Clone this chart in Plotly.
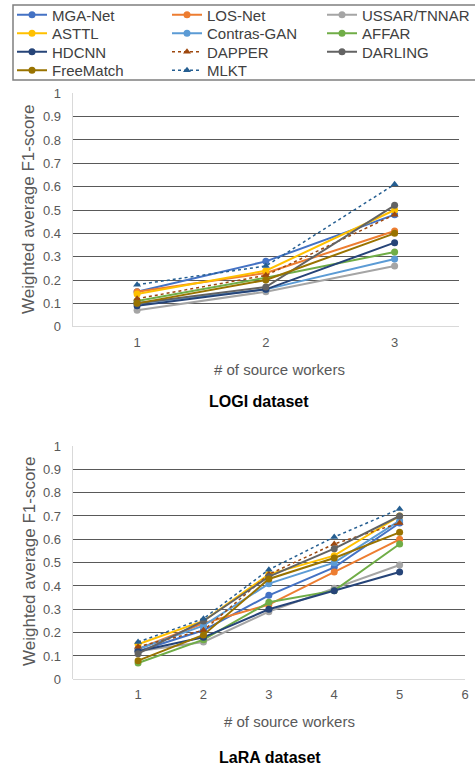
import plotly.graph_objects as go

# ---------------- data ----------------
methods = ["MGA-Net", "LOS-Net", "USSAR/TNNAR", "ASTTL", "Contras-GAN", "AFFAR",
           "HDCNN", "DAPPER", "DARLING", "FreeMatch", "MLKT"]
colors = ["#4472C4", "#ED7D31", "#A5A5A5", "#FFC000", "#5B9BD5", "#70AD47",
          "#264478", "#9E480E", "#636363", "#997300", "#255E91"]
dotted = [False, False, False, False, False, False, False, True, False, False, True]

logi_x = [1, 2, 3]
logi_values = [
    [0.15, 0.28, 0.48],  # MGA-Net
    [0.15, 0.23, 0.41],  # LOS-Net
    [0.07, 0.15, 0.26],  # USSAR/TNNAR
    [0.14, 0.24, 0.50],  # ASTTL
    [0.10, 0.16, 0.29],  # Contras-GAN
    [0.11, 0.21, 0.32],  # AFFAR
    [0.09, 0.16, 0.36],  # HDCNN
    [0.12, 0.22, 0.48],  # DAPPER
    [0.10, 0.17, 0.52],  # DARLING
    [0.10, 0.20, 0.40],  # FreeMatch
    [0.18, 0.26, 0.61],  # MLKT
]

lara_x = [1, 2, 3, 4, 5]
lara_values = [
    [0.12, 0.21, 0.36, 0.48, 0.67],  # MGA-Net
    [0.13, 0.24, 0.32, 0.46, 0.60],  # LOS-Net
    [0.12, 0.16, 0.29, 0.39, 0.49],  # USSAR/TNNAR
    [0.15, 0.25, 0.45, 0.53, 0.70],  # ASTTL
    [0.13, 0.23, 0.41, 0.50, 0.68],  # Contras-GAN
    [0.07, 0.17, 0.33, 0.38, 0.58],  # AFFAR
    [0.12, 0.18, 0.30, 0.38, 0.46],  # HDCNN
    [0.14, 0.21, 0.45, 0.58, 0.67],  # DAPPER
    [0.11, 0.25, 0.44, 0.56, 0.70],  # DARLING
    [0.08, 0.19, 0.43, 0.52, 0.63],  # FreeMatch
    [0.16, 0.26, 0.47, 0.61, 0.73],  # MLKT
]

y_ticks = [0, 0.1, 0.2, 0.3, 0.4, 0.5, 0.6, 0.7, 0.8, 0.9, 1]
y_ticklabels = ["0", "0.1", "0.2", "0.3", "0.4", "0.5", "0.6", "0.7", "0.8", "0.9", "1"]
logi_xticks = [1, 2, 3]
lara_xticks = [1, 2, 3, 4, 5, 6]

y_title = "Weighted average F1-score"
x_title = "# of source workers"
titles = ["LOGI dataset", "LaRA dataset"]

# ---------------- figure ----------------
W, H = 475, 766
FONT = "Liberation Sans, Arial, sans-serif"
fig = go.Figure()

legend_ids = ["legend", "legend2", "legend3", "legend4"]

for i, name in enumerate(methods):
    sym = "triangle-up" if dotted[i] else "circle"
    line = dict(color=colors[i], width=1.5 if dotted[i] else 2,
                dash="dot" if dotted[i] else "solid")
    marker = dict(symbol=sym, size=7, color=colors[i])
    lg = legend_ids[i // 3]
    fig.add_trace(go.Scatter(x=logi_x, y=logi_values[i], name=name, mode="lines+markers",
                             line=line, marker=marker, legendgroup=name, legend=lg,
                             xaxis="x", yaxis="y"))
    fig.add_trace(go.Scatter(x=lara_x, y=lara_values[i], name=name, mode="lines+markers",
                             line=line, marker=marker, legendgroup=name, showlegend=False,
                             xaxis="x2", yaxis="y2"))

def py(p):
    return 1 - p / H

def px(p):
    return p / W

grid = "#595959"
axis_common = dict(tickfont=dict(family=FONT, size=13, color="#595959"))

def legend_row(yc):
    return dict(orientation="h", x=px(12), y=py(yc), xanchor="left", yanchor="middle",
                xref="paper", yref="paper",
                entrywidth=110, entrywidthmode="pixels",
                bgcolor="rgba(0,0,0,0)", borderwidth=0,
                font=dict(family=FONT, size=15, color="#404040"))

fig.update_layout(
    width=W, height=H,
    margin=dict(l=0, r=0, t=0, b=0, autoexpand=False),
    paper_bgcolor="white", plot_bgcolor="white",
    font=dict(family=FONT, color="#404040"),
    xaxis=dict(domain=[px(72.7), px(459)], range=[0.5, 3.5], tickvals=logi_xticks,
               showgrid=False, zeroline=False, ticks="", anchor="y",
               ticklabelstandoff=6, **axis_common),
    yaxis=dict(domain=[py(326.7), py(93.3)], range=[0, 1], tickvals=y_ticks,
               ticktext=y_ticklabels, gridcolor=grid, gridwidth=1.2,
               zeroline=True, zerolinecolor="#d9d9d9", zerolinewidth=1.3,
               showline=True, linecolor="#d9d9d9", linewidth=1, ticks="",
               anchor="x", ticklabelstandoff=8, **axis_common),
    xaxis2=dict(domain=[px(72.7), px(465)], range=[0, 6], tickvals=lara_xticks,
                showgrid=False, zeroline=False, ticks="", anchor="y2",
                ticklabelstandoff=6, **axis_common),
    yaxis2=dict(domain=[py(679.3), py(446)], range=[0, 1], tickvals=y_ticks,
                ticktext=y_ticklabels, gridcolor=grid, gridwidth=1.2,
                zeroline=True, zerolinecolor="#d9d9d9", zerolinewidth=1.3,
                showline=True, linecolor="#d9d9d9", linewidth=1, ticks="",
                anchor="x2", ticklabelstandoff=8, **axis_common),
    legend=legend_row(15),
    legend2=legend_row(33.5),
    legend3=legend_row(52),
    legend4=legend_row(70.5),
    shapes=[dict(type="rect", xref="paper", yref="paper",
                 x0=px(13), x1=px(480), y0=py(80), y1=py(5),
                 line=dict(color="#7f7f7f", width=1.5), fillcolor="rgba(0,0,0,0)")],
)

ann = []
# y-axis titles
ann.append(dict(x=px(29), y=py(210), text=y_title, textangle=-90, showarrow=False,
                xanchor="center", yanchor="middle",
                xref="paper", yref="paper", font=dict(family=FONT, size=17, color="#595959")))
ann.append(dict(x=px(29), y=py(562), text=y_title, textangle=-90, showarrow=False,
                xanchor="center", yanchor="middle",
                xref="paper", yref="paper", font=dict(family=FONT, size=17, color="#595959")))
# x-axis titles
ann.append(dict(x=px(279), y=py(369), text=x_title, showarrow=False,
                xanchor="center", yanchor="middle",
                xref="paper", yref="paper", font=dict(family=FONT, size=15, color="#595959")))
ann.append(dict(x=px(289), y=py(721), text=x_title, showarrow=False,
                xanchor="center", yanchor="middle",
                xref="paper", yref="paper", font=dict(family=FONT, size=15, color="#595959")))
# dataset captions
ann.append(dict(x=px(259), y=py(402), text="<b>" + titles[0] + "</b>", showarrow=False,
                xanchor="center", yanchor="middle",
                xref="paper", yref="paper", font=dict(family=FONT, size=16, color="black")))
ann.append(dict(x=px(270), y=py(757), text="<b>" + titles[1] + "</b>", showarrow=False,
                xanchor="center", yanchor="middle",
                xref="paper", yref="paper", font=dict(family=FONT, size=16, color="black")))
fig.update_layout(annotations=ann)

fig.write_html("out.html", config={"displayModeBar": False},
               post_script="document.body.style.margin='0px';")
